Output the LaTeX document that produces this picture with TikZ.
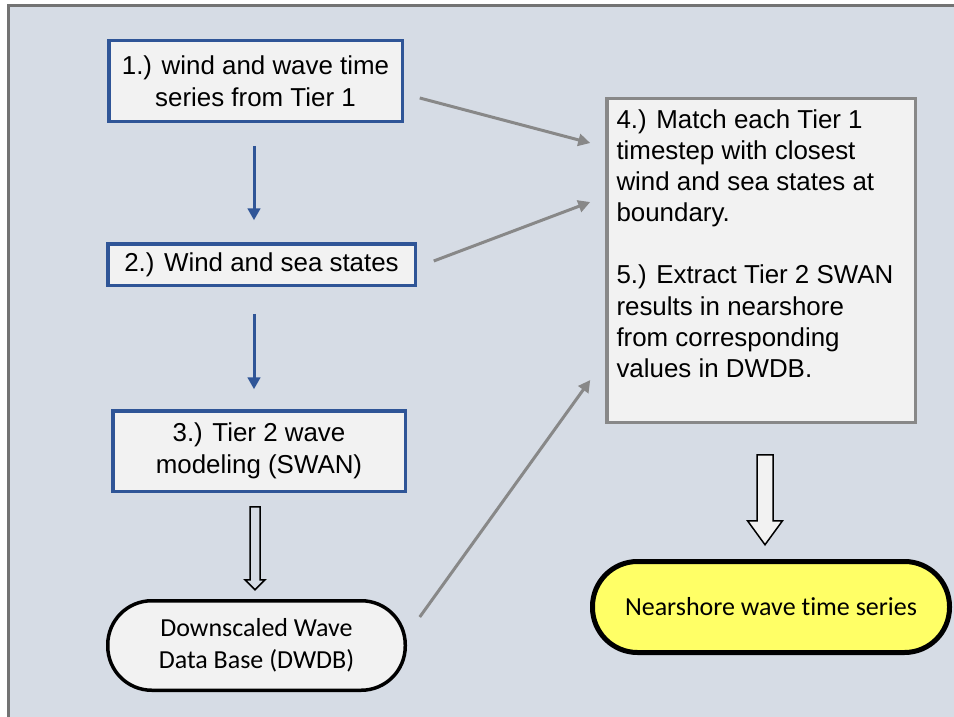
\documentclass[tikz,border=0pt]{standalone}
\usepackage{fontspec}
\setmainfont{Liberation Sans}
\newfontfamily\carlito[Ligatures=NoCommon]{Carlito}
\usetikzlibrary{arrows.meta}
\definecolor{bgc}{HTML}{D6DCE5}
\definecolor{framec}{HTML}{737373}
\definecolor{boxfill}{HTML}{F2F2F2}
\definecolor{blueb}{HTML}{2F5597}
\definecolor{grayb}{HTML}{888888}
\definecolor{yel}{HTML}{FFFF66}
\begin{document}
\begin{tikzpicture}[x=1pt,y=-1pt,
  bluebox/.style={draw=blueb, line width=3.5pt, fill=boxfill, align=center, inner sep=0pt,
    font=\fontsize{25.9}{31.5}\selectfont},
  graybox/.style={draw=grayb, line width=3.5pt, fill=boxfill, inner sep=0pt},
  termbox/.style={draw=black, fill=boxfill, align=center, inner sep=0pt,
    font=\carlito\fontsize{26}{32}\selectfont},
  bluearr/.style={draw=blueb, line width=3pt, -{Triangle[length=12pt,width=12.5pt]}},
  grayarr/.style={draw=grayb, line width=3pt, -{Triangle[length=12pt,width=12pt]}},
  hollow/.style={draw=black, line width=1.5pt, line join=miter}
]
\useasboundingbox (0,0) rectangle (954,717);
\clip (0,0) rectangle (954,717);
\fill[white] (0,0) rectangle (954,717);
\draw[framec, fill=bgc, line width=3pt] (8.5,5.5) rectangle (975,735);

\node[bluebox, minimum width=293.5pt, minimum height=80.5pt] (b1) at (255.5,81)
  {1.) wind and wave time\\series from Tier 1};
\node[bluebox, minimum width=307.5pt, minimum height=41.5pt] (b2) at (261.5,264.5)
  {2.) Wind and sea states};
\node[bluebox, minimum width=292.5pt, minimum height=80.5pt] (b3) at (259,451)
  {3.) Tier 2 wave\\modeling (SWAN)};
\node[graybox, minimum width=308.5pt, minimum height=323.5pt] (b4) at (761,260.5) {};
\node[anchor=north west, inner sep=0pt, align=left, font=\fontsize{25.9}{31.1}\selectfont]
  (t4) at ([shift={(11.3,12.5)}]b4.north west)
  {4.) Match each Tier 1\\timestep with closest\\wind and sea states at\\boundary.\\[31.1pt]
   5.) Extract Tier 2 SWAN\\results in nearshore\\from corresponding\\values in DWDB.};
\node[termbox, line width=3.5pt, rounded corners=44pt, minimum width=297.5pt, minimum height=89.5pt]
  (db) at (256.5,645.5) {Downscaled Wave\\Data Base (DWDB)};
\node[termbox, fill=yel, line width=5pt, rounded corners=45pt, minimum width=357pt, minimum height=91pt]
  (ns) at (771,607) {Nearshore wave time series};

\draw[bluearr, shorten <=22.75pt, shorten >=21.75pt]
  ([xshift=-1.5pt]b1.south) -- ([xshift=-7.5pt]b2.north);
\draw[bluearr, shorten <=26.75pt, shorten >=19.75pt]
  ([xshift=-7.5pt]b2.south) -- ([xshift=-5pt]b3.north);

\draw[grayarr] ([shift={(15.75,17)}]b1.east) -- ([shift={(-14.75,-117.5)}]b4.west);
\draw[grayarr] ([shift={(16.75,-3.5)}]b2.east) -- ([shift={(-14.75,-58.5)}]b4.west);
\draw[grayarr] ([shift={(12.75,-28.5)}]db.east) -- ([shift={(-14.75,119.5)}]b4.west);

\coordinate (h1) at ([shift={(-4,13.75)}]b3.south);
\draw[hollow] (h1) +(-5,0) -- +(-5,73) -- +(-10,73) -- +(0,83) -- +(10,73) -- +(5,73) -- +(5,0) -- cycle;
\coordinate (h2) at ([shift={(4,30.75)}]b4.south);
\draw[hollow, fill=boxfill] (h2) +(-8,0) -- +(-8,66) -- +(-17.5,66) -- +(0,90) -- +(17.5,66) -- +(8,66) -- +(8,0) -- cycle;
\end{tikzpicture}
\end{document}
